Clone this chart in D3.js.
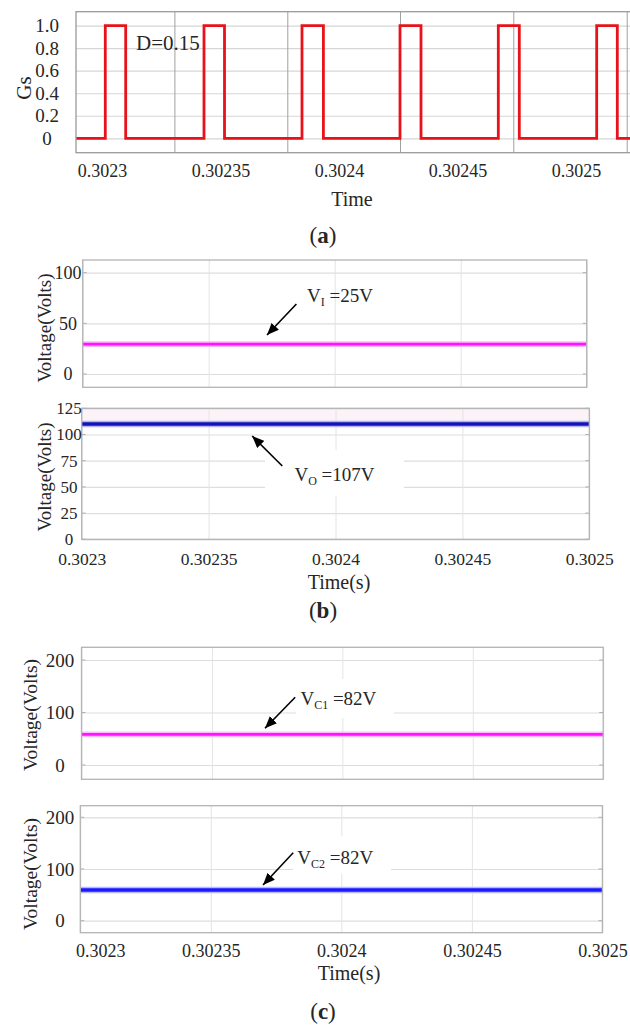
<!DOCTYPE html>
<html>
<head>
<meta charset="utf-8">
<script src="https://cdn.jsdelivr.net/npm/d3@7"></script>
<style>
  body { margin: 0; background: #fff; }
  svg { display: block; }
  text { font-family: "Liberation Serif", "Times New Roman", serif; fill: #262626; }
</style>
</head>
<body>
<svg id="chart" width="630" height="1026"></svg>
<script>
'use strict';

// time axis ticks (shared by every panel)
const timeTicks = [0.3023, 0.30235, 0.3024, 0.30245, 0.3025];
const timeTickLabels = ['0.3023', '0.30235', '0.3024', '0.30245', '0.3025'];

// (a) gate signal
const gsTicks = [0, 0.2, 0.4, 0.6, 0.8, 1.0];
const gsTickLabels = ['0', '0.2', '0.4', '0.6', '0.8', '1.0'];
const gsGridTimes = [0.30233055, 0.30237819, 0.30242574, 0.30247354, 0.30252139];
const pulseRise = [0.30230139, 0.30234304, 0.30238439, 0.30242574, 0.30246722, 0.30250873];
const pulseFall = [0.30231000, 0.30235169, 0.30239342, 0.30243460, 0.30247608, 0.30251743];
const gsStart = 0.302289, gsEnd = 0.302532;

// (b) input / output voltage
const vInTicks = [0, 50, 100];
const vOutTicks = [0, 25, 50, 75, 100, 125];
const vInSeries = [[0.3023, 29.5], [0.3025, 29.5]];
const vOutSeries = [[0.3023, 110], [0.3025, 110]];

// (c) capacitor voltages
const vCapTicks = [0, 100, 200];
const vC1Series = [[0.3023, 58.5], [0.3025, 58.5]];
const vC2Series = [[0.3023, 59.5], [0.3025, 59.5]];

let svg = d3.select('#chart');

let defs = svg.append('defs');
defs.append('marker')
    .attr('id', 'arrowhead')
    .attr('markerUnits', 'userSpaceOnUse')
    .attr('viewBox', '0 0 12 10')
    .attr('refX', 12).attr('refY', 5)
    .attr('markerWidth', 12).attr('markerHeight', 10)
    .attr('orient', 'auto')
    .append('path')
    .attr('d', 'M0,0 L12,5 L0,10 Z')
    .attr('fill', '#000');

let line = d3.line();

function drawPanel(p) {
    let g = svg.append('g');
    let x = d3.scaleLinear().domain([0.3023, 0.3025]).range(p.xRange);
    let y = d3.scaleLinear().domain(p.yDomain).range([p.bottom, p.top]);
    let w = p.right - p.left, h = p.bottom - p.top;

    g.append('rect')
        .attr('x', p.left).attr('y', p.top).attr('width', w).attr('height', h)
        .attr('fill', '#fff');

    if (p.band) {
        g.append('rect')
            .attr('x', p.left).attr('y', p.top)
            .attr('width', w).attr('height', y(p.band) - p.top)
            .attr('fill', '#fbf3f7');
    }

    //horizontal grid
    g.append('g')
        .attr('transform', `translate(${p.left},0)`)
        .call(d3.axisLeft(y).tickValues(p.yTicks).tickSize(-w).tickFormat(''))
        .call(s => s.select('.domain').remove())
        .selectAll('line').attr('stroke', p.hGrid).attr('stroke-width', 1.2);

    //vertical grid
    g.append('g')
        .attr('transform', `translate(0,${p.bottom})`)
        .call(d3.axisBottom(x).tickValues(p.gridTimes || timeTicks).tickSize(-h).tickFormat(''))
        .call(s => s.select('.domain').remove())
        .selectAll('line').attr('stroke', p.vGrid).attr('stroke-width', 1);

    //small ticks on the inside edges
    if (p.edgeTicks) {
        for (let v of p.yTicks) {
            g.append('line').attr('x1', p.left).attr('x2', p.left + 4)
                .attr('y1', y(v)).attr('y2', y(v)).attr('stroke', '#b0b0b0');
            g.append('line').attr('x1', p.right - 4).attr('x2', p.right)
                .attr('y1', y(v)).attr('y2', y(v)).attr('stroke', '#b0b0b0');
        }
    }

    //annotation box (white background behind label)
    if (p.note && p.note.box) {
        let b = p.note.box;
        g.append('rect').attr('x', b[0]).attr('y', b[1]).attr('width', b[2]).attr('height', b[3])
            .attr('fill', '#fff');
    }

    //data
    let path = line.x(d => x(d[0])).y(d => y(d[1]));
    for (let s of p.series) {
        if (s.halo) {
            g.append('path').datum(s.data).attr('d', path)
                .attr('fill', 'none').attr('stroke', s.halo)
                .attr('stroke-width', s.width + 3);
        }
        g.append('path').datum(s.data).attr('d', path)
            .attr('fill', 'none').attr('stroke', s.color)
            .attr('stroke-width', s.width)
            .attr('stroke-linejoin', 'miter');
    }

    //frame
    g.append('rect')
        .attr('x', p.left).attr('y', p.top).attr('width', w).attr('height', h)
        .attr('fill', 'none').attr('stroke', p.frame).attr('stroke-width', 1.3);

    //y tick labels
    g.append('g')
        .attr('transform', `translate(${p.left},0)`)
        .call(d3.axisLeft(y).tickValues(p.yTicks).tickSize(0)
            .tickFormat((d, i) => p.yLabels ? p.yLabels[i] : d))
        .call(s => s.select('.domain').remove())
        .selectAll('text')
        .attr('x', p.yLabelX - p.left)
        .attr('text-anchor', 'middle')
        .style('font-size', p.yFont + 'px')
        .style('font-family', '"Liberation Serif", serif')
        .attr('fill', '#262626');

    //x tick labels
    if (p.xLabelY) {
        g.append('g')
            .attr('transform', `translate(0,${p.bottom})`)
            .call(d3.axisBottom(x).tickValues(timeTicks).tickSize(0)
                .tickFormat((d, i) => timeTickLabels[i]))
            .call(s => s.select('.domain').remove())
            .selectAll('text')
            .attr('y', p.xLabelY - p.bottom)
            .attr('dy', '0.35em')
            .attr('dx', (d, i) => (p.xLabelShift && i === 0) ? p.xLabelShift : 0)
            .style('font-size', p.xFont + 'px')
            .style('font-family', '"Liberation Serif", serif')
            .attr('fill', '#262626');
    }

    //axis titles
    g.append('text')
        .attr('transform', `translate(${p.yTitle[0]},${p.yTitle[1]}) rotate(-90)`)
        .attr('text-anchor', 'middle').attr('dy', '0.35em')
        .style('font-size', p.yTitle[3] + 'px')
        .text(p.yTitle[2]);

    if (p.xTitle) {
        g.append('text')
            .attr('x', p.xTitle[0]).attr('y', p.xTitle[1])
            .attr('text-anchor', 'middle').attr('dy', '0.35em')
            .style('font-size', '20px')
            .text(p.xTitle[2]);
    }

    //annotation arrow + label
    if (p.note) {
        let n = p.note;
        g.append('line')
            .attr('x1', n.from[0]).attr('y1', n.from[1])
            .attr('x2', n.to[0]).attr('y2', n.to[1])
            .attr('stroke', '#000').attr('stroke-width', 1.6)
            .attr('marker-end', 'url(#arrowhead)');
        let t = g.append('text')
            .attr('x', n.at[0]).attr('y', n.at[1])
            .style('font-size', '19px').attr('fill', '#111');
        t.append('tspan').text('V');
        t.append('tspan').attr('dy', 4).style('font-size', '12px').text(n.sub);
        t.append('tspan').attr('dy', -4).text(' ' + n.rest);
    }
    return {x: x, y: y, g: g};
}

// (a) gate pulses
let gsData = [[gsStart, 0]];
pulseRise.forEach((r, i) => {
    gsData.push([r, 0], [r, 1], [pulseFall[i], 1], [pulseFall[i], 0]);
});
gsData.push([gsEnd, 0]);

let panelA = drawPanel({
    left: 76, right: 634, top: 11.7, bottom: 152.7,
    xRange: [102, 576], yDomain: [-0.128, 1.124],
    yTicks: gsTicks, yLabels: gsTickLabels, gridTimes: gsGridTimes,
    hGrid: '#d6d6d6', vGrid: '#a0a0a0', frame: '#9a9a9a',
    series: [{data: gsData, color: '#e8121b', width: 2.8}],
    yLabelX: 47, yFont: 19, xLabelY: 171, xFont: 18,
    yTitle: [24, 88, 'Gs', 21], xTitle: [352, 198.5, 'Time']
});
panelA.g.append('text')
    .attr('x', 136).attr('y', 50)
    .style('font-size', '21px').attr('fill', '#111')
    .text('D=0.15');

// (b)
drawPanel({
    left: 82.7, right: 586.7, top: 260, bottom: 387.3,
    xRange: [82.7, 586.7], yDomain: [-13.1, 112.5],
    yTicks: vInTicks, hGrid: '#dedede', vGrid: '#e4e4e4', frame: '#b4b4b4', edgeTicks: true,
    series: [{data: vInSeries, color: '#ff14ff', width: 2.8, halo: '#ffb8ff'}],
    yLabelX: 68, yFont: 18,
    yTitle: [44, 328, 'Voltage(Volts)', 19],
    note: {from: [296.4, 304], to: [267, 335], at: [307, 302], sub: 'I', rest: '=25V'}
});

drawPanel({
    left: 81.7, right: 589.3, top: 408.3, bottom: 539.3,
    xRange: [81.7, 589.3], yDomain: [0, 125],
    yTicks: vOutTicks, hGrid: '#dedede', vGrid: '#e4e4e4', frame: '#b4b4b4', edgeTicks: true,
    band: 110,
    series: [{data: vOutSeries, color: '#1414b4', width: 3.4, halo: '#b4b4f4'}],
    yLabelX: 69, yFont: 17, xLabelY: 559, xFont: 17.5,
    yTitle: [44, 477, 'Voltage(Volts)', 19], xTitle: [339, 582, 'Time(s)'],
    note: {from: [282.3, 466], to: [252.2, 436], at: [294.4, 481], sub: 'O', rest: '=107V',
        box: [265, 450, 139, 46]}
});

// (c)
drawPanel({
    left: 81.5, right: 603.2, top: 647.3, bottom: 779.3,
    xRange: [81.5, 603.2], yDomain: [-27.2, 224.2],
    yTicks: vCapTicks, hGrid: '#dedede', vGrid: '#e4e4e4', frame: '#b4b4b4', edgeTicks: true,
    series: [{data: vC1Series, color: '#ff14ff', width: 2.8, halo: '#ffb8ff'}],
    yLabelX: 60, yFont: 19,
    yTitle: [30, 715, 'Voltage(Volts)', 19.5],
    note: {from: [295.2, 697.3], to: [265, 728.3], at: [300.4, 704.5], sub: 'C1', rest: '=82V',
        box: [296, 679, 98, 39]}
});

drawPanel({
    left: 80.3, right: 602.4, top: 805.7, bottom: 932.7,
    xRange: [80.3, 602.4], yDomain: [-23.2, 222.4],
    yTicks: vCapTicks, hGrid: '#dedede', vGrid: '#e4e4e4', frame: '#b4b4b4', edgeTicks: true,
    series: [{data: vC2Series, color: '#1a1aff', width: 3.4, halo: '#b8b8ff'}],
    yLabelX: 60, yFont: 19, xLabelY: 951, xFont: 18, xLabelShift: 20,
    yTitle: [30, 874, 'Voltage(Volts)', 19.5], xTitle: [349, 973, 'Time(s)'],
    note: {from: [293.2, 852.7], to: [263, 885], at: [297.2, 863.5], sub: 'C2', rest: '=82V',
        box: [293, 836, 98, 38]}
});

//sub-figure captions
[['a', 243], ['b', 618], ['c', 1019]].forEach(([c, yy]) => {
    let t = svg.append('text')
        .attr('x', 323).attr('y', yy)
        .attr('text-anchor', 'middle')
        .style('font-size', '23px').attr('fill', '#000');
    t.append('tspan').text('(');
    t.append('tspan').style('font-weight', 'bold').text(c);
    t.append('tspan').text(')');
});
</script>
</body>
</html>
